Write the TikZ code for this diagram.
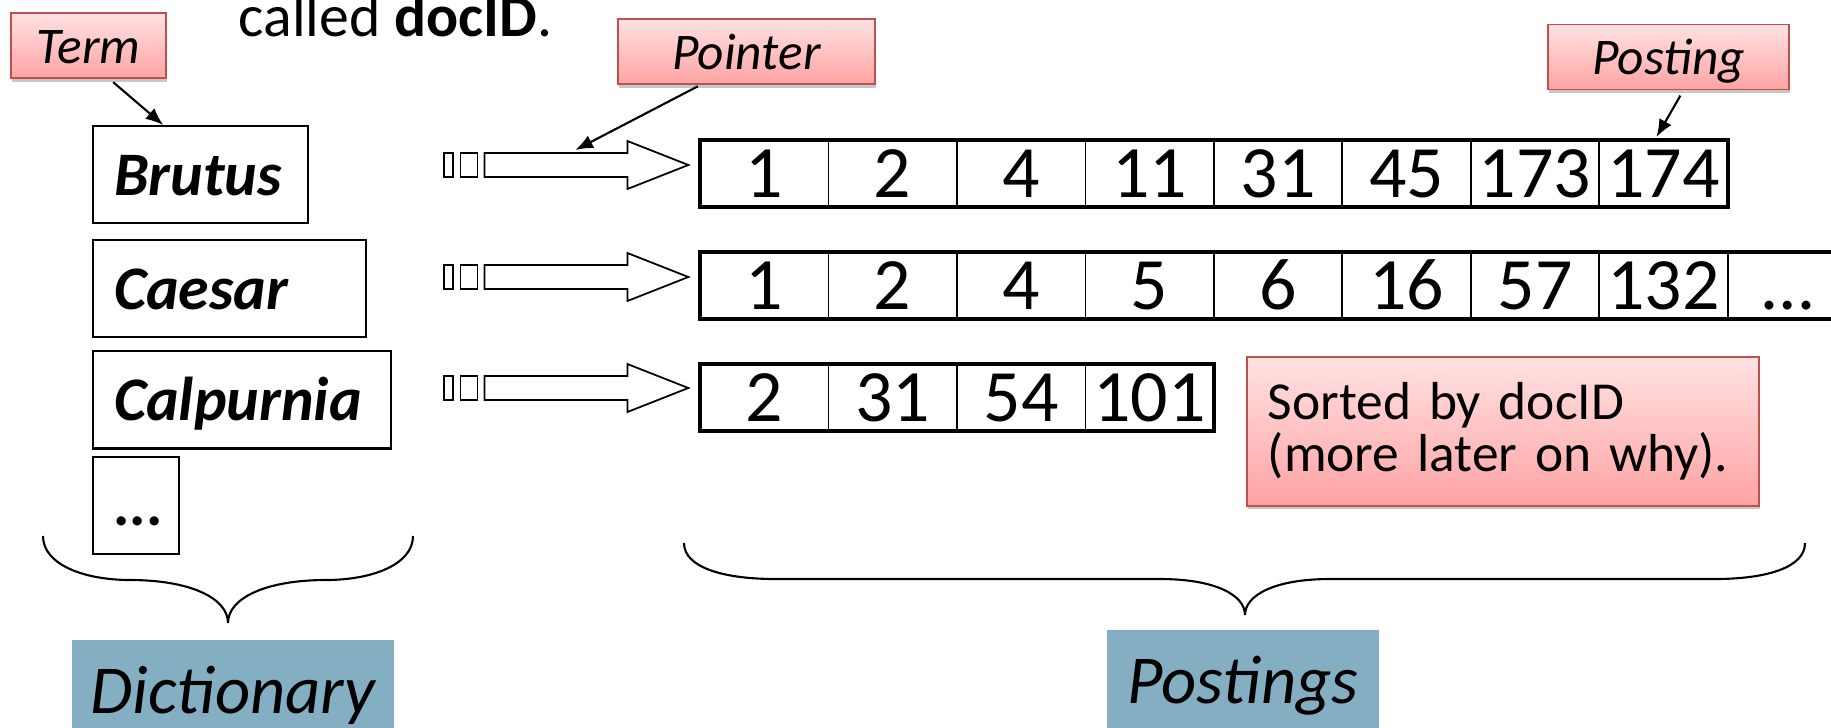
\documentclass[tikz,border=0pt]{standalone}
\usepackage{fontspec}
\setmainfont{Carlito}
\usepackage{tikz}
\usetikzlibrary{positioning,calc,shadows,arrows.meta}

\definecolor{pinktop}{RGB}{255,226,226}
\definecolor{pinkbot}{RGB}{255,163,163}
\definecolor{pinkline}{RGB}{192,80,77}
\definecolor{labelblue}{RGB}{132,174,194}

\tikzset{
  pinkfill/.style={draw=pinkline, line width=0.5pt, top color=pinktop, bottom color=pinkbot,
    drop shadow={shadow xshift=0.01cm, shadow yshift=-0.035cm, fill=black!22, opacity=1}},
  callout/.style={pinkfill, font=\fontsize{14.6}{16}\selectfont\itshape,
    text height=0.45cm, text depth=0.10cm, inner ysep=0.05cm, inner xsep=0pt},
  note/.style={pinkfill, font=\fontsize{15.2}{14.8}\selectfont, align=left,
    inner xsep=0.21cm, anchor=north west},
  termbox/.style={draw, line width=0.6pt, font=\fontsize{17.6}{20}\selectfont\bfseries\itshape,
    align=left, inner xsep=0.21cm, inner ysep=0pt, minimum height=0.97cm,
    text height=0.50cm, text depth=0.09cm, anchor=north west},
  cell/.style={draw, line width=0.5pt, minimum width=1.284cm, minimum height=0.67cm,
    inner sep=0pt, outer sep=0pt, text height=0.47cm, text depth=0pt,
    font=\fontsize{21}{24}\selectfont},
  rowframe/.style={line width=1.3pt},
  ptrbox/.style={draw, line width=0.45pt, minimum height=0.24cm, inner sep=0pt},
  blockarrow/.style={draw, line width=0.5pt, fill=white},
  pointsto/.style={-{Latex[length=5pt,width=4pt]}, line width=0.6pt},
  brace/.style={line width=0.6pt},
  partlabel/.style={fill=labelblue, font=\fontsize{19.5}{22}\selectfont\itshape,
    text height=0.46cm, text depth=0.4cm, inner ysep=0.27cm, inner xsep=0pt, anchor=base}
}

\begin{document}
\begin{tikzpicture}[x=0.01cm, y=-0.01cm]
\path[use as bounding box] (0,0) rectangle (1831,727);
\clip (0,0) rectangle (1831,727);
\node[anchor=base west, inner sep=0pt, font=\fontsize{17}{20}\selectfont] (caption) at (238,36) {called \textbf{docID}.};
% callouts
\node[callout, minimum width=1.55cm] (term) at (88.5,45.5) {Term};
\node[callout, minimum width=2.57cm] (pointer) at (746.5,51.5) {Pointer};
\node[callout, minimum width=2.41cm] (posting) at (1668.5,57) {Posting};
% dictionary
\node[termbox, text width=1.73cm] (brutus) at (92,125) {Brutus};
\node[termbox, text width=2.31cm, below=0.15cm of brutus.south west, anchor=north west] (caesar) {Caesar};
\node[termbox, text width=2.56cm, below=0.12cm of caesar.south west, anchor=north west] (calpurnia) {Calpurnia};
\node[termbox, text width=0.44cm, below=0.06cm of calpurnia.south west, anchor=north west] (moreterms) {...};
% pointers
\node[ptrbox, minimum width=0.09cm] (pa1) at (448.5,165) {};
\node[ptrbox, minimum width=0.17cm, right=0.06cm of pa1] (pb1) {};
\node[ptrbox, minimum width=0.09cm] (pa2) at (448.5,277) {};
\node[ptrbox, minimum width=0.17cm, right=0.06cm of pa2] (pb2) {};
\node[ptrbox, minimum width=0.09cm] (pa3) at (448.5,388) {};
\node[ptrbox, minimum width=0.17cm, right=0.06cm of pa3] (pb3) {};
\draw[blockarrow] ($(pb1.east)+(6,-12)$) -- ++(143,0) -- ++(0,-12) -- ++(61,24) -- ++(-61,24) -- ++(0,-12) -- ++(-143,0) -- cycle;
\draw[blockarrow] ($(pb2.east)+(6,-12)$) -- ++(143,0) -- ++(0,-12) -- ++(61,24) -- ++(-61,24) -- ++(0,-12) -- ++(-143,0) -- cycle;
\draw[blockarrow] ($(pb3.east)+(6,-12)$) -- ++(143,0) -- ++(0,-12) -- ++(61,24) -- ++(-61,24) -- ++(0,-12) -- ++(-143,0) -- cycle;
% postings lists
\node[cell] (r1c1) at (764.2,173.5) {1};
\node[cell, right=0pt of r1c1] (r1c2) {2};
\node[cell, right=0pt of r1c2] (r1c3) {4};
\node[cell, right=0pt of r1c3] (r1c4) {11};
\node[cell, right=0pt of r1c4] (r1c5) {31};
\node[cell, right=0pt of r1c5] (r1c6) {45};
\node[cell, right=0pt of r1c6] (r1c7) {173};
\node[cell, right=0pt of r1c7] (r1c8) {174};
\node[cell] (r2c1) at (764.2,285.5) {1};
\node[cell, right=0pt of r2c1] (r2c2) {2};
\node[cell, right=0pt of r2c2] (r2c3) {4};
\node[cell, right=0pt of r2c3] (r2c4) {5};
\node[cell, right=0pt of r2c4] (r2c5) {6};
\node[cell, right=0pt of r2c5] (r2c6) {16};
\node[cell, right=0pt of r2c6] (r2c7) {57};
\node[cell, right=0pt of r2c7] (r2c8) {132};
\node[cell, minimum width=1.2cm, right=0pt of r2c8] (r2c9) {…};
\node[cell] (r3c1) at (764.2,397.5) {2};
\node[cell, right=0pt of r3c1] (r3c2) {31};
\node[cell, right=0pt of r3c2] (r3c3) {54};
\node[cell, right=0pt of r3c3] (r3c4) {101};
\draw[rowframe] (r1c1.north west) rectangle (r1c8.south east);
\draw[rowframe] (r2c1.north west) rectangle (r2c9.south east);
\draw[rowframe] (r3c1.north west) rectangle (r3c4.south east);
% callout arrows
\coordinate (ptrtip) at ($(pb1.east)+(97,-15)$);
\draw[pointsto, shorten <=0.05cm] (term.302) -- (brutus.127);
\draw[pointsto, shorten <=0.03cm] (pointer.216) -- (ptrtip);
\draw[pointsto, shorten <=0.06cm] (posting.294) -- ([xshift=-0.07cm, yshift=0.03cm]r1c8.north);
\node[note, minimum width=4.96cm, minimum height=1.49cm, text width=4.7cm] (sorted) at (1246,356) {Sorted by docID\\(more later on why).};
% braces
\draw[brace] (43,536) .. controls (43,565) and (85,580) .. (130,580) .. controls (190,580) and (228,598) .. (228,623) .. controls (228,598) and (266,580) .. (326,580) .. controls (371,580) and (413,565) .. (413,536);
\draw[brace] (684,543) .. controls (684,568) and (725,579) .. (775,579) -- (1160,579) .. controls (1215,579) and (1245,595) .. (1245,615) .. controls (1245,595) and (1275,579) .. (1330,579) -- (1715,579) .. controls (1765,579) and (1805,568) .. (1805,543);
\node[partlabel, minimum width=3.22cm] (dictlabel) at (233,713) {Dictionary};
\node[partlabel, minimum width=2.72cm] (postlabel) at (1243,703) {Postings};
\end{tikzpicture}
\end{document}
